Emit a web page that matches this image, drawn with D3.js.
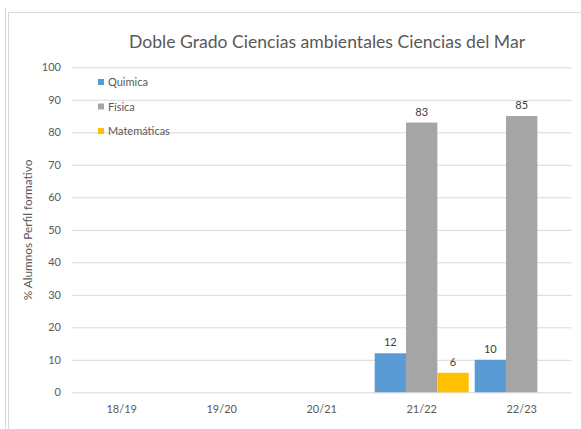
<!DOCTYPE html>
<meta charset="utf-8">
<title>Doble Grado Ciencias ambientales Ciencias del Mar</title>
<style>
    body { margin: 0; background: #fff; font-family: Lato, "Open Sans", sans-serif; }
</style>
<body>
<script src="https://d3js.org/d3.v7.min.js"></script>
<script>
    /* Data (% alumnos por perfil formativo) */
    var categories = ["18/19", "19/20", "20/21", "21/22", "22/23"];
    var seriesNames = ["Quimica", "Física", "Matemáticas"];
    var quimica = [null, null, null, 12, 10];
    var fisica = [null, null, null, 83, 85];
    var matematicas = [null, null, null, 6, null];
    var yTicks = [0, 10, 20, 30, 40, 50, 60, 70, 80, 90, 100];

    var colors = ["#5b9bd5", "#a5a5a5", "#ffc000"];
    var series = [quimica, fisica, matematicas];

    var width = 581, height = 429;
    var textColor = "#595959";

    var svg = d3.select("body").append("svg")
        .attr("width", width)
        .attr("height", height);

    // outer frame lines
    svg.append("line").attr("x1", 5.5).attr("x2", 5.5).attr("y1", 8).attr("y2", height)
        .attr("stroke", "#d9d9d9");
    svg.append("path").attr("d", "M8.5," + height + "V12.5H" + width)
        .attr("fill", "none").attr("stroke", "#d9d9d9");

    var x = d3.scaleBand().domain(categories).range([71.7, 571.7]);
    var xs = d3.scaleBand().domain(seriesNames).range([3, 97]);
    var y = d3.scaleLinear().domain([0, 100]).range([392.3, 67.3]);

    // gridlines
    svg.append("g")
        .attr("transform", "translate(71.7,0)")
        .call(d3.axisLeft(y).tickValues(yTicks).tickSize(-500).tickFormat(""))
        .call(g => g.select(".domain").remove())
        .call(g => g.selectAll("line").attr("stroke", "#d9d9d9"));

    // y tick labels
    svg.append("g").selectAll("text")
        .data(yTicks)
        .enter().append("text")
        .attr("x", 61)
        .attr("y", d => y(d) + 4)
        .attr("text-anchor", "end")
        .attr("font-size", 11)
        .attr("fill", textColor)
        .text(d => d);

    // x labels
    svg.append("g").selectAll("text")
        .data(categories)
        .enter().append("text")
        .attr("x", d => x(d) + x.bandwidth() / 2)
        .attr("y", 413)
        .attr("text-anchor", "middle")
        .attr("font-size", 11)
        .attr("fill", textColor)
        .text(d => d);

    // bars + value labels
    series.forEach(function (values, s) {
        var pts = categories.map((c, i) => ({ c: c, v: values[i] })).filter(p => p.v != null);
        var g = svg.append("g");
        g.selectAll("rect")
            .data(pts)
            .enter().append("rect")
            .attr("x", p => x(p.c) + xs(seriesNames[s]))
            .attr("width", xs.bandwidth())
            .attr("y", p => y(p.v))
            .attr("height", p => y(0) - y(p.v))
            .attr("fill", colors[s]);
        g.selectAll("text")
            .data(pts)
            .enter().append("text")
            .attr("x", p => x(p.c) + xs(seriesNames[s]) + xs.bandwidth() / 2)
            .attr("y", p => y(p.v) - 7)
            .attr("text-anchor", "middle")
            .attr("font-size", 11)
            .attr("fill", "#404040")
            .text(p => p.v);
    });

    // legend
    var legend = svg.append("g");
    seriesNames.forEach(function (name, i) {
        var ly = 82 + i * 24.5;
        legend.append("rect")
            .attr("x", 98).attr("y", ly - 3)
            .attr("width", 6).attr("height", 6)
            .attr("fill", colors[i]);
        legend.append("text")
            .attr("x", 108).attr("y", ly + 4)
            .attr("font-size", 11)
            .attr("fill", textColor)
            .text(name);
    });

    // title
    svg.append("text")
        .attr("x", 327).attr("y", 48)
        .attr("text-anchor", "middle")
        .attr("font-size", 17.6)
        .attr("fill", textColor)
        .text("Doble Grado Ciencias ambientales Ciencias del Mar");

    // y axis label
    svg.append("text")
        .attr("transform", "translate(32,230) rotate(-90)")
        .attr("text-anchor", "middle")
        .attr("font-size", 11.8)
        .attr("fill", textColor)
        .text("% Alumnos Perfil formativo");
</script>
</body>
